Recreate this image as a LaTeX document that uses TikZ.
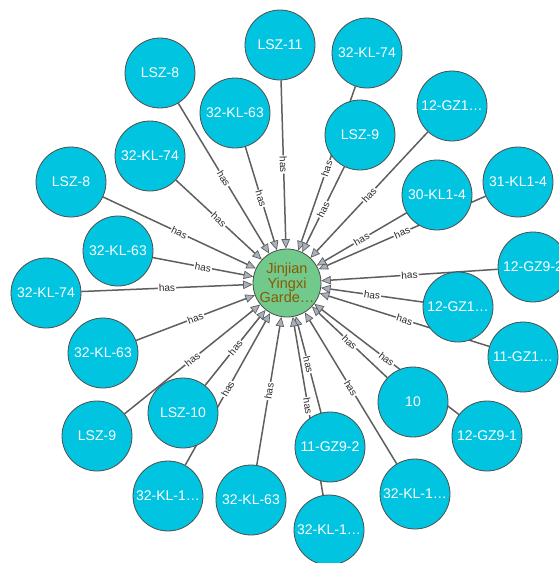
\documentclass[tikz,border=0pt]{standalone}
\usepackage{fontspec}
\setmainfont{Liberation Sans}
\usetikzlibrary{arrows.meta,backgrounds}
\definecolor{nodeblue}{HTML}{00C4E0}
\definecolor{nodegreen}{HTML}{72C98C}
\definecolor{gardentext}{HTML}{8A5A00}
\definecolor{bordergray}{HTML}{4D4D4D}
\definecolor{edgegray}{HTML}{5F5F5F}
\definecolor{tipgray}{HTML}{A9B1BB}
\definecolor{labelgray}{HTML}{2B2B2B}

\begin{document}
\begin{tikzpicture}
		[%%%%%%%%%%%%%%%%%%%%%%%%%%%%%%
		x=1pt,y=-1pt,
		item/.style={circle,draw=bordergray,line width=0.8pt,fill=nodeblue,minimum size=70pt,inner sep=0pt,text=white,font=\fontsize{14}{14}\selectfont},
		garden/.style={circle,draw=bordergray,line width=0.8pt,fill=nodegreen,minimum size=68pt,inner sep=0pt,text=gardentext,align=center,font=\fontsize{14.5}{13.5}\selectfont},
		link/.style={draw=edgegray,line width=1.5pt,-{Triangle[length=9.5pt,width=8.5pt,fill=tipgray,line width=0.7pt]}},
		rel/.style={sloped,fill=white,inner sep=1pt,text=labelgray,font=\fontsize{10}{10}\selectfont},
		]%%%%%%%%%%%%%%%%%%%%%%%%%%%%%%
		
		\useasboundingbox (0,0) rectangle (558,563);
		\node[garden] (c) at (287,283) {Jinjian\\Yingxi\\Garde…};
		\foreach \n/\x/\y/\txt in {1/280/45/LSZ-11, 2/367/53/32-KL-74, 3/160/73/LSZ-8,
			4/452/106/12-GZ1…, 5/235/113/32-KL-63, 6/360/135/LSZ-9, 7/150/156/32-KL-74,
			8/71/182/LSZ-8, 9/518/182/31-KL1-4, 10/437/195/30-KL1-4, 11/118/251/32-KL-63,
			12/533/267/12-GZ9-2, 13/46/293/32-KL-74, 14/458/307/12-GZ1…, 15/103/353/32-KL-63,
			16/523/357/11-GZ1…, 17/413/402/10, 18/183/413/LSZ-10, 19/97/436/LSZ-9,
			20/487/436/12-GZ9-1, 21/330/447/11-GZ9-2, 22/415/494/32-KL-1…,
			23/168/496/32-KL-1…, 24/251/500/32-KL-63, 25/329/530/32-KL-1…}{
			\node[item] (n\n) at (\x,\y) {\txt};
		}
		\begin{pgfonlayer}{background}
		\foreach \n in {1,2,...,25}
			\draw[link] (n\n) -- node[rel]{has} (c);
		\end{pgfonlayer}
		\end{tikzpicture}
\end{document}
